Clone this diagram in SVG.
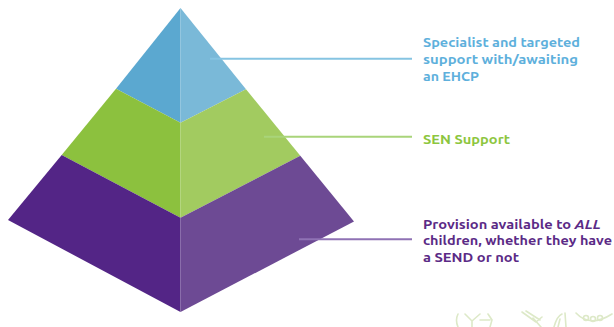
<svg xmlns="http://www.w3.org/2000/svg" width="614" height="327" viewBox="0 0 614 327">
<style>
.lbl{font-family:"Ubuntu","Roboto","Liberation Sans",sans-serif;font-weight:bold;font-size:13px}
.conn{stroke-width:2;fill:none}
.deco{stroke:#dde9c8;stroke-width:1.6;fill:none;stroke-linecap:round}
</style>
<rect width="614" height="327" fill="#ffffff"/>
<g id="tier-top">
<polygon points="180.5,8 116,88.7 180.5,122.7" fill="#5ba8d0"/>
<polygon points="180.5,8 246,89.3 180.5,122.7" fill="#7ab9d8"/>
</g>
<g id="tier-middle">
<polygon points="116,88.7 180.5,122.7 180.5,217.7 61.7,155" fill="#8cc13e"/>
<polygon points="246,89.3 180.5,122.7 180.5,217.7 300.3,155.7" fill="#a2cb60"/>
</g>
<g id="tier-bottom">
<polygon points="61.7,155 180.5,217.7 180.5,312 8,220" fill="#532586"/>
<polygon points="300.3,155.7 180.5,217.7 180.5,312 354,221.5" fill="#6d4a94"/>
</g>
<g id="connectors">
<line class="conn" x1="210" y1="58.7" x2="412" y2="58.7" stroke="#86c4e2"/>
<line class="conn" x1="264" y1="136.7" x2="412" y2="136.7" stroke="#a9d47a"/>
<line class="conn" x1="299" y1="239.3" x2="412" y2="239.3" stroke="#8f72b4"/>
</g>
<g id="label-top" class="lbl" fill="#5eb0dc">
<text x="423" y="47.3" textLength="157" lengthAdjust="spacingAndGlyphs">Specialist and targeted</text>
<text x="423" y="63.8" textLength="155" lengthAdjust="spacingAndGlyphs">support with/awaiting</text>
<text x="423" y="80.5" textLength="56" lengthAdjust="spacingAndGlyphs">an EHCP</text>
</g>
<g id="label-middle" class="lbl" fill="#8dc63f">
<text x="423" y="143.5" textLength="87" lengthAdjust="spacingAndGlyphs">SEN Support</text>
</g>
<g id="label-bottom" class="lbl" fill="#5b2a86">
<text x="423" y="228.5" textLength="178" lengthAdjust="spacingAndGlyphs">Provision available to <tspan font-style="italic">ALL</tspan></text>
<text x="423" y="245" textLength="189" lengthAdjust="spacingAndGlyphs">children, whether they have</text>
<text x="423" y="262" textLength="96" lengthAdjust="spacingAndGlyphs">a SEND or not</text>
</g>
<g id="decoration">
<path class="deco" d="M458,314 Q455,320 458,327"/>
<path class="deco" d="M465,314 L472,321 L480,314 M472,321 L472,327 M480,320 L490,320 M488,314 L492,320 L490,327"/>
<path class="deco" d="M522,312 L536,322 M526,311 L540,320 M536,322 L542,317 M533,318 L541,327"/>
<path class="deco" d="M554,327 Q557,316 562,314 M558,327 L560,319 M565,313 L566,327"/>
<path class="deco" d="M576,313 Q590,328 612,314"/>
<circle class="deco" cx="586" cy="318" r="2.5"/>
<circle class="deco" cx="593" cy="319" r="2.5"/>
<circle class="deco" cx="600" cy="318" r="2.5"/>
</g>
</svg>
